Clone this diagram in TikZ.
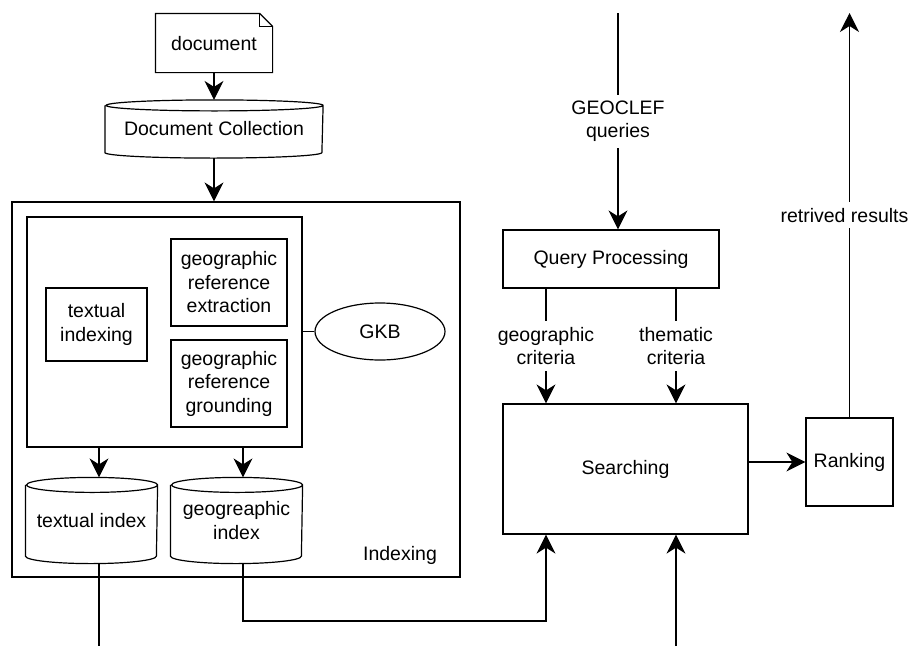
\documentclass[tikz,border=0pt]{standalone}
\usepackage{fontspec}
\setmainfont{Liberation Sans}
\usetikzlibrary{arrows.meta,shapes.geometric}

% outline of a stored collection round a node: node, x radius, y radius
\newcommand{\dbshape}[3]{%
  \draw ([yshift=-#3]#1.north west) -- ([yshift=#3]#1.south west)
    arc[start angle=180, end angle=360, x radius=#2, y radius=#3]
    -- ([yshift=-#3]#1.north east)
    arc[start angle=0, end angle=180, x radius=#2, y radius=#3]
    arc[start angle=180, end angle=360, x radius=#2, y radius=#3];}
% sheet with a folded corner round a node: node, fold size
\newcommand{\docshape}[2]{%
  \draw (#1.south west) -- (#1.north west) -- ([xshift=-#2]#1.north east)
    -- ([yshift=-#2]#1.north east) -- (#1.south east) -- cycle;
  \draw ([xshift=-#2]#1.north east) |- ([yshift=-#2]#1.north east);}

\begin{document}
\begin{tikzpicture}[x=1pt, y=-1pt, line width=1.2pt,
    font=\fontsize{19.5}{23.5}\selectfont,
    block/.style={draw, rectangle, align=center, inner sep=2pt},
    store/.style={rectangle, align=center, inner sep=2pt},
    tag/.style={fill=white, align=center, inner sep=6pt},
    flow/.style={-{Stealth[length=19pt, width=19pt, inset=6pt]}}]
    \useasboundingbox (0,0) rectangle (911,646);

    % Input documents
    \node[store, minimum width=116pt, minimum height=58pt, text depth=-6pt] (doc) at (214,43) {document};
    \docshape{doc}{13pt}
    \node[store, minimum width=217pt, minimum height=57pt] (coll) at (214,129) {Document Collection};
    \dbshape{coll}{108.5pt}{5.5pt}
    \draw[flow] (doc) -- (coll);

    % Indexing
    \node[block, minimum width=448pt, minimum height=375pt] (indexing) at (236,389.5) {};
    \draw[flow] (coll.south) -- (coll.south |- indexing.north);
    \node[block, minimum width=275pt, minimum height=230pt] (core) at (164.5,332) {};
    \node[block, minimum width=101pt, minimum height=73pt] (txtidx) at (96.5,324.5) {textual\\indexing};
    \node[block, minimum width=116pt, minimum height=87pt] (geoext) at (229,282.5) {geographic\\reference\\extraction};
    \node[block, minimum width=116pt, minimum height=87pt] (geognd) at (229,383.5) {geographic\\reference\\grounding};
    \node[draw, ellipse, minimum width=130pt, minimum height=57pt] (gkb) at (380,331.5) {GKB};
    \draw (core.east |- gkb.west) -- (gkb.west);

    % Indexes
    \node[store, minimum width=131pt, minimum height=85pt] (tidx) at (91.5,520.5) {textual index};
    \dbshape{tidx}{65.5pt}{7.5pt}
    \node[store, minimum width=131pt, minimum height=85pt] (gidx) at (236.5,520.5) {geogreaphic\\index};
    \dbshape{gidx}{65.5pt}{7.5pt}
    \node (idxlbl) at (400,555) {Indexing};
    \coordinate (tcol) at (99,0);
    \coordinate (gcol) at (243,0);
    \draw[flow] (core.south -| tcol) -- (tidx.north -| tcol);
    \draw[flow] (core.south -| gcol) -- (gidx.north -| gcol);

    % Querying
    \node[block, minimum width=216pt, minimum height=58pt] (qp) at (611,259) {Query Processing};
    \node[block, minimum width=245pt, minimum height=130pt] (search) at (625.5,469) {Searching};
    \node[block, minimum width=87pt, minimum height=88pt] (rank) at (849.5,462) {Ranking};
    \coordinate (qin) at (618,13);
    \coordinate (rout) at (849.5,13);
    \coordinate (geox) at (546,0);
    \coordinate (thmx) at (676,0);
    \coordinate (bend) at (243,621);
    \coordinate (thmin) at (676,646);
    \coordinate (tout) at (99,646);

    \draw[flow] (qin) -- node[tag] {GEOCLEF\\queries} (qin |- qp.north);
    \draw[flow] (qp.south -| geox) -- node[tag] {geographic\\criteria} (search.north -| geox);
    \draw[flow] (qp.south -| thmx) -- node[tag] {thematic\\criteria} (search.north -| thmx);
    \draw[flow] (search.east |- rank.west) -- (rank.west);
    \draw[flow] (rank.north) -- node[tag, xshift=-5pt, inner xsep=2pt] {retrived results} (rout);

    % Index lookups
    \draw (tidx.south -| tcol) -- (tout);
    \draw[flow] (gidx.south -| gcol) -- (bend) -| (search.south -| geox);
    \draw[flow] (thmin) -- (search.south -| thmin);
\end{tikzpicture}
\end{document}
